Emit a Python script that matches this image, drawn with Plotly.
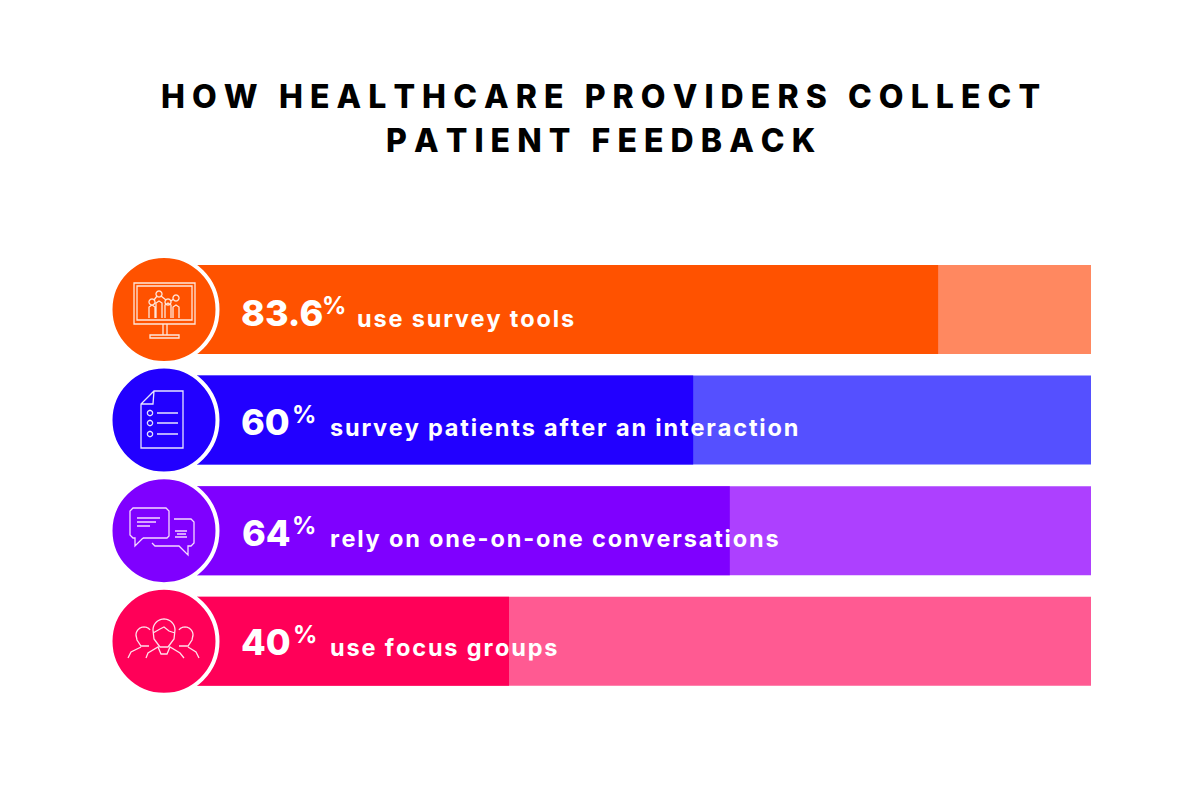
import math
import plotly.graph_objects as go

categories = ["survey tools", "after interaction", "conversations", "focus groups"]
bar_fill = [82.9, 55.5, 59.6, 34.9]
track = [100, 100, 100, 100]
value_labels = ["83.6", "60", "64", "40"]
descriptions = ["use survey tools", "survey patients after an interaction",
                "rely on one-on-one conversations", "use focus groups"]
fill_colors = ["#FF5200", "#2200FF", "#7F00FF", "#FF0058"]
track_colors = ["#FF8860", "#5550FF", "#AD40FF", "#FF5A92"]
icon_colors = ["#FFE6DA", "#E6E4FF", "#F6D8FF", "#FFDFEA"]
title_lines = ["HOW HEALTHCARE PROVIDERS COLLECT", "PATIENT FEEDBACK"]

W, H = 1200, 801
FONT = "Inter"
HAIR = "\u200a"


def spaced(s, n=2):
    return (HAIR * n).join(s)


def P(x, y):
    return f"{x / W:.5f},{1 - y / H:.5f}"


def poly(points, cx, cy, close=False):
    s = "M" + " L".join(P(cx + x, cy + y) for x, y in points)
    return s + (" Z" if close else "")


def circ(x0, y0, r, cx, cy, a0=0, a1=360, n=24):
    pts = [(x0 + r * math.cos(math.radians(a0 + (a1 - a0) * i / n)),
            y0 + r * math.sin(math.radians(a0 + (a1 - a0) * i / n))) for i in range(n + 1)]
    return poly(pts, cx, cy)


def icon_monitor(cx, cy):
    p = [poly([(-30, -25), (31, -25), (31, 16), (-30, 16)], cx, cy, True),
         poly([(-27, -22), (28, -22), (28, 12), (-27, 12)], cx, cy, True),
         poly([(-1, 16), (-1, 27)], cx, cy), poly([(3, 16), (3, 27)], cx, cy),
         poly([(-14, 27), (15, 27), (15, 30), (-14, 30)], cx, cy, True)]
    for x0, y0, r in [(-12, -6, 3), (-5, -14, 3), (4, -6, 3), (12, -10, 3)]:
        p.append(circ(x0, y0, r, cx, cy))
    p.append(poly([(-10, -8), (-7, -12)], cx, cy))
    p.append(poly([(-3, -12), (2, -8)], cx, cy))
    p.append(poly([(7, -7), (9.5, -9)], cx, cy))
    for x0, top, w in [(-15, -1, 6), (-8, -5, 6), (1, -3, 6), (9, -1, 6)]:
        p.append(poly([(x0, 10), (x0, top), (x0 + w / 2, top - 2), (x0 + w, top), (x0 + w, 10)], cx, cy))
    return " ".join(p)


def icon_doc(cx, cy):
    p = [poly([(-10, -28), (19, -28), (19, 29), (-23, 29), (-23, -15)], cx, cy, True),
         poly([(-10, -28), (-11, -15), (-23, -15)], cx, cy)]
    for y in [-6, 4, 15]:
        p.append(circ(-14, y, 2.6, cx, cy))
        p.append(poly([(-7, y), (14, y)], cx, cy))
    return " ".join(p)


def icon_chat(cx, cy):
    p = [poly([(-21, 8), (3, 8), (5, 6), (5, -19), (2, -22), (-31, -22), (-34, -19),
               (-34, 5), (-31, 8), (-29, 8), (-29, 16), (-21, 8)], cx, cy),
         poly([(-27, -12), (-4, -12)], cx, cy), poly([(-27, -8), (-8, -8)], cx, cy),
         poly([(-27, -4), (-14, -4)], cx, cy),
         poly([(10, -11), (27, -11), (30, -8), (30, 13), (27, 16), (24, 16), (24, 25),
               (15, 16), (-9, 16), (-12, 13)], cx, cy),
         poly([(11, 1), (23, 1)], cx, cy), poly([(13, 4), (22, 4)], cx, cy),
         poly([(11, 7), (23, 7)], cx, cy)]
    return " ".join(p)


def icon_people(cx, cy):
    p = [circ(0, -11, 11, cx, cy, 180, 360),
         poly([(-11, -11), (-10, -2), (-4, 6), (4, 6), (10, -2), (11, -11)], cx, cy),
         poly([(-11, -8), (-4, -12), (0, -14), (5, -10), (11, -8)], cx, cy),
         poly([(-18, 17), (-16, 12), (-6, 6), (-3, 13), (3, 13), (6, 6), (16, 12), (20, 17)], cx, cy),
         circ(-20, -6, 8, cx, cy, 170, 320), circ(21, -6, 8, cx, cy, 220, 370),
         poly([(-28, -6), (-27, -1), (-23, 5), (-15, 5)], cx, cy),
         poly([(29, -6), (28, -1), (24, 5), (15, 5)], cx, cy),
         poly([(-36, 17), (-33, 11), (-23, 6)], cx, cy),
         poly([(35, 17), (32, 11), (24, 6)], cx, cy)]
    return " ".join(p)


icon_funcs = [icon_monitor, icon_doc, icon_chat, icon_people]

# axis: 0 -> 197 px, 100 -> 1091 px; rows every 110.6 px starting at 309.5 px
PX_PER_UNIT = 8.94
ROW = 110.6
TOP = 309.5
x_range = [-197 / PX_PER_UNIT, (W - 197) / PX_PER_UNIT]
y_range = [(H - TOP) / ROW, -TOP / ROW]
CIRCLE_X = (164 - 197) / PX_PER_UNIT

fig = go.Figure()
fig.add_bar(y=categories, x=track, orientation="h", marker=dict(color=track_colors, line_width=0),
            hoverinfo="skip")
fig.add_bar(y=categories, x=bar_fill, orientation="h", marker=dict(color=fill_colors, line_width=0))
fig.add_scatter(y=categories, x=[CIRCLE_X] * 4, mode="markers", cliponaxis=False,
                marker=dict(size=107, color=fill_colors, line=dict(color="white", width=4)),
                hoverinfo="skip")

anns = []
for i, line in enumerate(title_lines):
    anns.append(dict(text=spaced(line, 3), x=600 / W, y=1 - [97, 140][i] / H, xref="paper", yref="paper",
                     showarrow=False, xanchor="center", yanchor="middle",
                     font=dict(family=FONT, size=32, color="#000000", weight=800)))

num_x = [239, 239, 240, 239]
pct_x = [320, 290, 290, 291]
desc_x = [355, 328, 328, 328]
row_y = [313, 422, 533, 642]
for i in range(4):
    y = row_y[i]
    anns.append(dict(text=value_labels[i], x=num_x[i] / W, y=1 - y / H, xref="paper", yref="paper",
                     showarrow=False, xanchor="left", yanchor="middle",
                     font=dict(family=FONT, size=36, color="white", weight=800)))
    anns.append(dict(text="%", x=pct_x[i] / W, y=1 - (y - 8) / H, xref="paper", yref="paper",
                     showarrow=False, xanchor="left", yanchor="middle",
                     font=dict(family=FONT, size=24, color="white", weight=700)))
    anns.append(dict(text=spaced(descriptions[i], 1), x=desc_x[i] / W, y=1 - (y + 5) / H, xref="paper", yref="paper",
                     showarrow=False, xanchor="left", yanchor="middle",
                     font=dict(family=FONT, size=23.5, color="white", weight=700)))

shapes = []
centers = [(164, 308), (164, 419), (164, 530), (164, 641)]
for i, (cx, cy) in enumerate(centers):
    shapes.append(dict(type="path", xref="paper", yref="paper",
                       path=icon_funcs[i](cx, cy),
                       line=dict(color=icon_colors[i], width=1.3), layer="above"))

fig.update_layout(width=W, height=H, margin=dict(l=0, r=0, t=0, b=0), showlegend=False,
                  paper_bgcolor="white", plot_bgcolor="white", barmode="overlay", bargap=0.195,
                  xaxis=dict(range=x_range, visible=False),
                  yaxis=dict(range=y_range, visible=False, type="category"),
                  annotations=anns, shapes=shapes)
fig.write_html("out.html", config={"displayModeBar": False},
               post_script="document.body.style.margin='0';document.body.style.overflow='hidden';")
